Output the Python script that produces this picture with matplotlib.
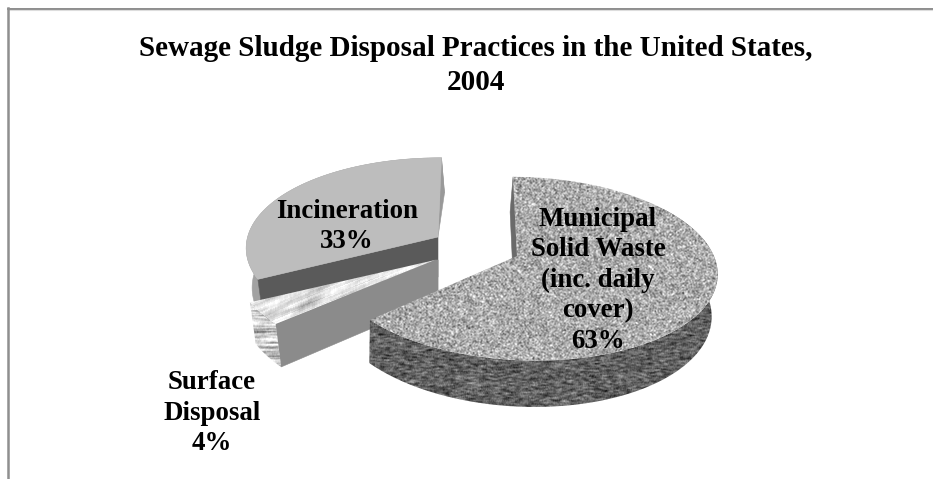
import numpy as np
import matplotlib
matplotlib.use("Agg")
import matplotlib.pyplot as plt
from matplotlib.patches import Polygon

#chart values, clockwise from 12 o'clock
categories = ["Municipal\nSolid Waste\n(inc. daily\ncover)", "Surface\nDisposal", "Incineration"]
shares = [63, 4, 33]
title = "Sewage Sludge Disposal Practices in the United States,\n2004"

W, H = 933, 479
plt.rcParams['font.family'] = ['Liberation Serif', 'DejaVu Serif']

fig = plt.figure(figsize=(W / 100, H / 100), dpi=100)
ax = fig.add_axes([0, 0, 1, 1])
ax.set_xlim(0, W)
ax.set_ylim(H, 0)
ax.axis("off")

rng = np.random.default_rng(7)


def smooth(img, nx, ny):
    #box blur along each axis, wraps round the edges
    for n, axis in ((nx, 1), (ny, 0)):
        img = sum(np.roll(img, i, axis=axis) for i in range(n)) / n
    return img


def granite(mean, spread, nx=2, ny=2):
    #speckled stone fill
    img = smooth(rng.normal(size=(H, W)), nx, ny)
    img = mean + spread * img / img.std()
    return np.clip(img, 0, 255)


def marble(horizontal=False):
    #pale streaks running along the slice
    img = rng.normal(size=(H, W))
    if horizontal:
        img = smooth(img, 30, 2)
        img = 205 + 32 * img / img.std()
    else:
        img = smooth(img, 24, 5)
        rows, cols = np.indices((H, W))
        img = img[(rows + (cols * 0.4).astype(int)) % H, cols]
        img = 228 + 16 * img / img.std()
    return np.clip(img, 0, 255)


def project(theta, cx, cy, sx=1.0, shear=-4.5):
    #perspective of the pie disc, returns top face points and depth term
    X = np.sin(theta)
    Y = np.cos(theta)
    w = 1 - 0.032 * X + 0.137 * Y
    x = cx + (191.7 * sx * X + shear * Y) / w
    y = cy + (3 * X - 90 * Y) / w
    return x, y, w


def lower(x, y, w, vx, depth=40):
    #same points on the underside of the disc
    return vx + (x - vx) * 0.985, y + depth / w


def fill_poly(pts, color=None, img=None):
    pts = np.asarray(pts)
    if img is None:
        ax.add_patch(Polygon(pts, closed=True, fc=color, ec=color, lw=0.4))
        return
    patch = Polygon(pts, closed=True, fc="none", ec="none")
    ax.add_patch(patch)
    im = ax.imshow(img, cmap="gray", vmin=0, vmax=255, extent=(0, W, H, 0),
                   aspect="auto", interpolation="bilinear", zorder=ax.get_zorder() + len(ax.patches))
    im.set_clip_path(patch)


def band(x1, y1, x2, y2):
    return np.column_stack([np.r_[x1, x2[::-1]], np.r_[y1, y2[::-1]]])


def stacked_text(lines, x, last_baseline, step, size):
    #one text per line so the baselines can be placed directly
    n = len(lines)
    for i, line in enumerate(lines):
        ax.text(x, last_baseline - step * (n - 1 - i), line, ha="center", va="baseline",
                fontsize=size, fontweight="bold", color="black", zorder=60)


#slice angles from the shares
edges = np.cumsum([0] + shares) / sum(shares) * 2 * np.pi

#incineration, pushed up and left
t = np.linspace(edges[2], edges[3], 80)
cx, cy, sx, sh, vx = 438, 237, 1.02, 4, 640
x, y, w = project(t, cx, cy, sx, sh)
xb, yb = lower(x, y, w, vx)
fill_poly(band(x, y, xb, yb), "#a2a2a2")
#cut faces
x0, y0, w0 = project(edges[2], cx, cy, sx, sh)
x0b, y0b = lower(x0, y0, w0, vx)
xab, yab = lower(cx, cy, 1.0, vx)
fill_poly([(x0, y0), (cx, cy), (cx, yab), (x0b, y0b)], "#5a5a5a")
x1, y1, w1 = project(edges[3], cx, cy, sx, sh)
x1b, y1b = lower(x1, y1, w1, vx)
fill_poly([(x1, y1), (cx, cy), (x1b, y1b)], "#999999")
fill_poly(np.vstack([[cx, cy], np.column_stack([x, y])]), "#bdbdbd")

#surface disposal, pulled down a little less
t = np.linspace(edges[1], edges[2], 20)
cx, cy, sx, sh, vx = 435, 260, 1.06, 0, 640
x, y, w = project(t, cx, cy, sx, sh)
xb, yb = lower(x, y, w, vx)
fill_poly(band(x, y, xb, yb), img=marble(horizontal=True))
x0, y0, w0 = project(edges[1], cx, cy, sx, sh)
x0b, y0b = lower(x0, y0, w0, vx)
xab, yab = lower(cx, cy, 1.0, vx)
fill_poly([(x0, y0), (cx, cy), (xab, cy), (xab, yab), (x0b, y0b)], "#8b8b8b")
fill_poly(np.vstack([[cx, cy], np.column_stack([x, y])]), img=marble())

#municipal solid waste
t = np.linspace(edges[0], edges[1], 200)
cx, cy, sx, sh, vx = 517, 256, 1.0, -4.5, 317
x, y, w = project(t, cx, cy, sx, sh)
xb, yb = lower(x, y, w, vx)
vis = t > np.pi * 0.3
fill_poly(band(x[vis], y[vis], xb[vis], yb[vis]), img=granite(98, 20, nx=5))
xab, yab = lower(cx, cy, 1.0, vx)
fill_poly([(x[0], y[0]), (cx, cy), (xab, yab), (xb[0], yb[0])], "#6a6a6a")
fill_poly(np.vstack([[cx, cy], np.column_stack([x, y])]), img=granite(172, 24))

#frame along the top and left only
ax.plot([8, W], [8.5, 8.5], color="#848484", lw=1.3, zorder=50)
ax.plot([8, W], [9.8, 9.8], color="#dddddd", lw=0.8, zorder=50)
ax.plot([8, 8], [8, H], color="#8f8f8f", lw=1.8, zorder=50)

stacked_text(title.split("\n"), 476, 90, 34, 21)

label_pos = [(598, 348), (212, 450), (347, 248)]
for name, share, (lx, ly) in zip(categories, shares, label_pos):
    stacked_text(f"{name}\n{share}%".split("\n"), lx, ly, 30.5, 19.4)

fig.savefig("out.png", dpi=100)
